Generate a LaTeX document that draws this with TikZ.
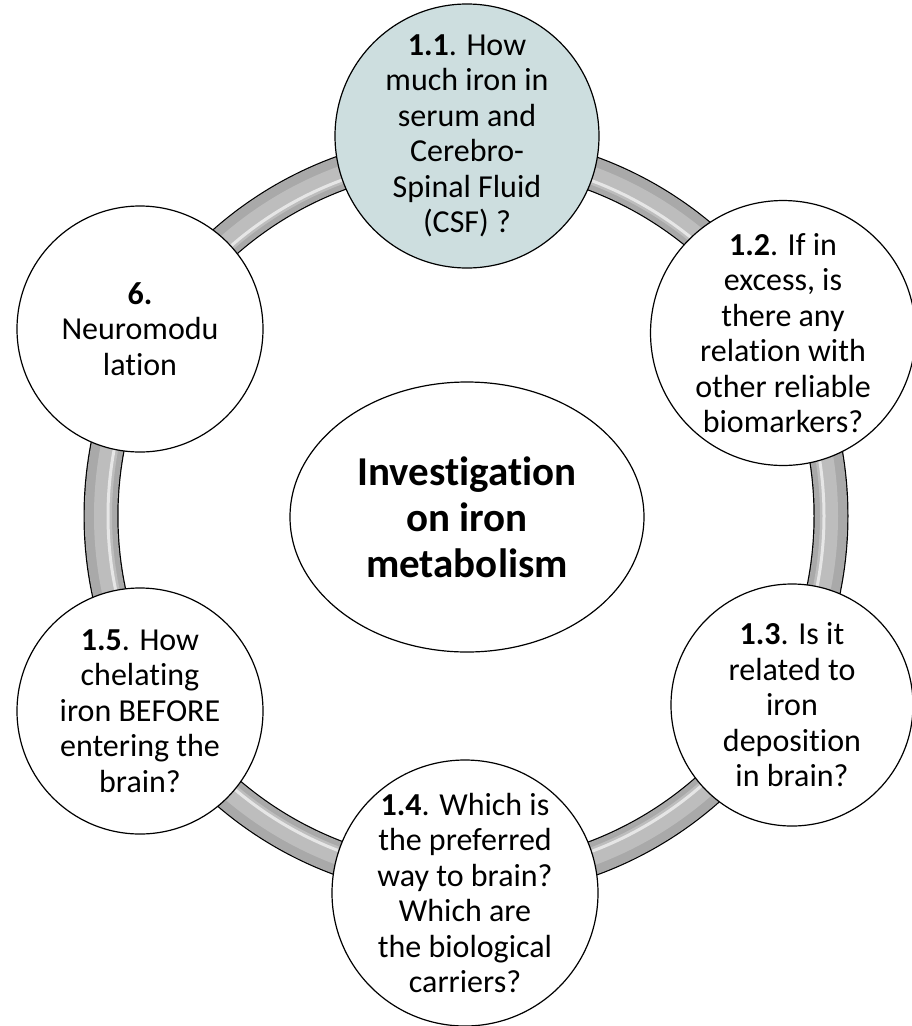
\documentclass[tikz,border=0pt]{standalone}
\usepackage{fontspec}
\setmainfont[Ligatures=NoCommon]{Carlito}
\usetikzlibrary{shapes.geometric}
\definecolor{bluefill}{HTML}{CDDEDF}
\definecolor{tubedark}{HTML}{A9A9A9}
\definecolor{tubemid}{HTML}{BDBDBD}
\definecolor{tubelight}{HTML}{E6E6E6}
\tikzset{
  bub/.style={circle, draw=black, line width=1.2pt, fill=white, align=center, inner sep=0pt,
    font={\fontsize{32}{35.5}\selectfont}, text=black},
  hub/.style={ellipse, draw=black, line width=1.2pt, fill=white, align=center, inner sep=0pt,
    font={\fontsize{41}{46}\selectfont\bfseries}, text=black}
}
\begin{document}
\begin{tikzpicture}[x=1pt,y=-1pt]
\useasboundingbox (0,0) rectangle (911,1026);
% ring
\coordinate (rc) at (466,516);
\draw[line width=35pt, black] (rc) circle[radius=365pt];
\draw[line width=32.6pt, tubedark] (rc) circle[radius=365pt];
\draw[line width=18pt, tubemid] (rc) circle[radius=363pt];
\draw[line width=3pt, tubelight] (rc) circle[radius=358pt];
% hub
\node[hub, minimum width=354pt, minimum height=270pt] (hub) at (467,517)
  {Investigation\\on iron\\metabolism};
% bubbles
\node[bub, fill=bluefill, minimum size=264pt] (n11) at (467,136)
  {\textbf{1.1}. How\\much iron in\\serum and\\Cerebro-\\Spinal Fluid\\(CSF) ?};
\node[bub, minimum size=254pt] (n12) at (783,333)
  {\textbf{1.2}. If in\\excess, is\\there any\\relation with\\other reliable\\biomarkers?};
\node[bub, minimum size=242pt] (n13) at (792,705)
  {\textbf{1.3}. Is it\\related to\\iron\\deposition\\in brain?};
\node[bub, minimum size=266pt] (n14) at (465,893)
  {\textbf{1.4}. Which is\\the preferred\\way to brain?\\Which are\\the biological\\carriers?};
\node[bub, minimum size=246pt] (n15) at (140,711)
  {\textbf{1.5}. How\\chelating\\iron BEFORE\\entering the\\brain?};
\node[bub, minimum size=246pt] (n6) at (140,329)
  {\textbf{6.}\\Neuromodu\\lation};
\end{tikzpicture}
\end{document}
